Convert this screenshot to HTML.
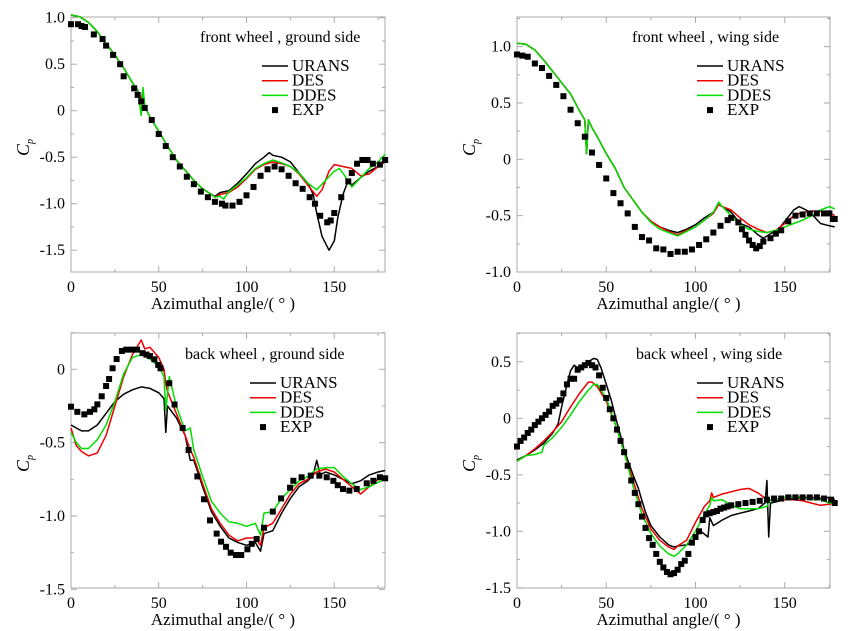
<!DOCTYPE html>
<html><head><meta charset="utf-8"><style>
body{margin:0;background:#fff;width:855px;height:631px;overflow:hidden}
svg{display:block;font-family:"Liberation Serif",serif}
svg text{font-family:"Liberation Serif",serif}
</style></head><body>
<svg id="chart" width="855" height="631" font-family="Liberation Serif, serif"></svg>
<script>
// ---- Panel 1: front wheel, ground side ----
const fgUransA=[0,5,10,15,20,25,30,35,38,40,41,42,45,50,55,60,65,70,75,80,82,85,90,95,100,105,110,113,115,120,125,130,135,138,140,143,147,150,152,155,158,160,165,170,175,179];
const fgUransV=[1.03,1.01,0.95,0.85,0.72,0.6,0.46,0.3,0.22,0.1,0.22,0.05,-0.07,-0.22,-0.38,-0.53,-0.64,-0.75,-0.84,-0.9,-0.92,-0.88,-0.86,-0.78,-0.68,-0.57,-0.5,-0.45,-0.48,-0.5,-0.55,-0.67,-0.78,-0.9,-1.1,-1.35,-1.5,-1.4,-1.15,-0.9,-0.75,-0.8,-0.72,-0.65,-0.6,-0.55];
const fgDesA=[0,5,10,15,20,25,30,35,38,40,41,42,45,50,55,60,65,70,75,80,82,85,90,95,100,105,110,115,120,125,130,135,140,143,147,150,155,160,165,170,175,179];
const fgDesV=[1.03,1.01,0.95,0.85,0.72,0.6,0.46,0.3,0.22,0.1,0.22,0.05,-0.07,-0.22,-0.38,-0.53,-0.64,-0.75,-0.84,-0.9,-0.93,-0.9,-0.88,-0.82,-0.73,-0.63,-0.58,-0.55,-0.57,-0.6,-0.68,-0.8,-0.92,-0.85,-0.65,-0.58,-0.6,-0.62,-0.7,-0.68,-0.6,-0.55];
const fgDdesA=[0,5,10,15,20,25,30,35,38,40,41,42,45,50,55,60,65,70,75,80,82,85,87,90,95,100,105,110,115,120,125,130,135,140,145,150,153,156,160,165,170,175,179];
const fgDdesV=[1.03,1.01,0.95,0.85,0.72,0.6,0.46,0.3,0.22,-0.05,0.25,0.05,-0.07,-0.22,-0.38,-0.53,-0.64,-0.75,-0.84,-0.9,-0.93,-0.92,-0.95,-0.87,-0.8,-0.72,-0.62,-0.57,-0.53,-0.56,-0.6,-0.67,-0.78,-0.85,-0.75,-0.65,-0.62,-0.7,-0.82,-0.72,-0.62,-0.55,-0.47];
const fgExpA=[0,4,6,8,13,18,20,24,28,30,36,38,40,42,46,50,54,58,62,66,70,74,78,82,86,88,92,96,100,104,108,112,116,120,124,128,132,136,139,142,146,148,150,154,158,160,163,166,169,172,176,179];
const fgExpV=[0.93,0.93,0.91,0.9,0.82,0.77,0.7,0.6,0.5,0.37,0.24,0.17,0.1,0.03,-0.1,-0.25,-0.38,-0.5,-0.6,-0.71,-0.79,-0.87,-0.93,-0.98,-1.0,-1.02,-1.02,-0.98,-0.91,-0.82,-0.7,-0.63,-0.6,-0.63,-0.7,-0.78,-0.84,-0.93,-1.0,-1.13,-1.2,-1.18,-1.1,-0.93,-0.76,-0.67,-0.57,-0.53,-0.53,-0.57,-0.58,-0.53];
// ---- Panel 2: front wheel, wing side ----
const fwUransA=[0,5,10,15,20,25,30,35,38,39,40,42,45,50,55,60,65,70,75,80,85,90,95,100,105,110,113,115,120,125,130,135,138,142,146,150,155,158,162,166,170,175,178];
const fwUransV=[1.03,1.02,0.97,0.88,0.78,0.68,0.58,0.43,0.35,0.05,0.35,0.28,0.2,0.05,-0.08,-0.25,-0.36,-0.47,-0.55,-0.6,-0.63,-0.65,-0.62,-0.58,-0.52,-0.47,-0.4,-0.42,-0.47,-0.57,-0.6,-0.67,-0.7,-0.66,-0.63,-0.55,-0.45,-0.42,-0.45,-0.5,-0.57,-0.59,-0.6];
const fwDesA=[0,5,10,15,20,25,30,35,38,39,40,42,45,50,55,60,65,70,75,80,85,90,95,100,105,110,113,115,120,125,130,135,140,145,150,155,160,165,170,175,178];
const fwDesV=[1.03,1.02,0.97,0.88,0.78,0.68,0.58,0.43,0.35,0.05,0.35,0.28,0.2,0.05,-0.08,-0.25,-0.36,-0.47,-0.55,-0.6,-0.64,-0.67,-0.63,-0.6,-0.54,-0.48,-0.4,-0.42,-0.45,-0.52,-0.58,-0.62,-0.65,-0.63,-0.57,-0.5,-0.47,-0.46,-0.46,-0.47,-0.5];
const fwDdesA=[0,5,10,15,20,25,30,35,38,39,40,42,45,50,55,60,65,70,75,80,85,90,95,100,105,110,113,115,120,125,130,135,140,145,150,155,160,165,170,175,178];
const fwDdesV=[1.03,1.02,0.97,0.88,0.78,0.68,0.58,0.43,0.35,0.05,0.35,0.28,0.2,0.05,-0.08,-0.25,-0.36,-0.47,-0.56,-0.62,-0.65,-0.68,-0.64,-0.6,-0.54,-0.47,-0.38,-0.42,-0.5,-0.58,-0.62,-0.64,-0.65,-0.63,-0.6,-0.57,-0.54,-0.5,-0.45,-0.42,-0.44];
const fwExpA=[0,3,6,10,14,18,22,26,30,34,38,42,46,50,54,58,62,66,70,74,78,82,86,90,94,98,102,106,110,114,118,120,124,126,128,130,132,134,136,138,142,145,148,152,156,160,164,168,172,175,177,178];
const fwExpV=[0.93,0.92,0.91,0.85,0.81,0.74,0.66,0.56,0.44,0.32,0.2,0.06,-0.05,-0.17,-0.3,-0.39,-0.48,-0.6,-0.69,-0.72,-0.79,-0.8,-0.84,-0.82,-0.82,-0.8,-0.76,-0.71,-0.65,-0.59,-0.54,-0.52,-0.56,-0.62,-0.67,-0.72,-0.76,-0.79,-0.77,-0.73,-0.7,-0.66,-0.63,-0.55,-0.5,-0.49,-0.48,-0.48,-0.48,-0.48,-0.53,-0.53];
// ---- Panel 3: back wheel, ground side ----
const bgUransA=[0,3,6,10,15,20,25,30,35,40,45,50,53,54,55,60,65,68,70,75,80,85,90,95,100,105,108,110,115,120,125,130,135,138,140,142,145,150,155,160,165,170,175,179];
const bgUransV=[-0.38,-0.4,-0.42,-0.42,-0.38,-0.3,-0.22,-0.17,-0.14,-0.12,-0.13,-0.16,-0.2,-0.43,-0.25,-0.33,-0.45,-0.62,-0.62,-0.8,-0.97,-1.07,-1.15,-1.18,-1.2,-1.18,-1.24,-1.12,-1.1,-0.98,-0.88,-0.8,-0.76,-0.72,-0.62,-0.72,-0.7,-0.72,-0.75,-0.78,-0.76,-0.72,-0.7,-0.69];
const bgDesA=[0,3,6,10,15,20,25,30,35,40,42,45,50,53,54,55,60,65,68,70,75,80,85,90,95,100,105,108,110,115,120,125,130,135,140,145,150,155,160,165,170,175,179];
const bgDesV=[-0.4,-0.52,-0.56,-0.59,-0.57,-0.45,-0.25,-0.05,0.1,0.2,0.14,0.15,0.08,0.0,-0.1,-0.15,-0.3,-0.45,-0.55,-0.6,-0.78,-0.95,-1.05,-1.13,-1.17,-1.15,-1.15,-1.2,-1.08,-1.05,-0.95,-0.85,-0.78,-0.75,-0.7,-0.68,-0.7,-0.75,-0.8,-0.85,-0.8,-0.75,-0.73];
const bgDdesA=[0,3,6,10,15,20,25,30,35,40,45,50,53,54,56,60,65,68,70,75,80,85,90,95,100,105,108,110,115,120,125,130,135,140,145,150,155,160,165,170,175,179];
const bgDdesV=[-0.43,-0.5,-0.54,-0.54,-0.48,-0.38,-0.22,-0.03,0.08,0.1,0.07,0.02,-0.05,-0.28,-0.05,-0.25,-0.42,-0.4,-0.55,-0.73,-0.9,-0.98,-1.04,-1.05,-1.07,-1.05,-1.13,-0.98,-0.97,-0.88,-0.82,-0.76,-0.73,-0.68,-0.67,-0.67,-0.73,-0.78,-0.82,-0.8,-0.77,-0.75];
const bgExpA=[0,3.6,7.6,10.8,13.3,15,17.5,20,21.7,23.7,26,29,31.5,34.5,37.7,40.8,43,45,47.5,49.7,51,56,59,63.6,67,72,75.8,79.2,83,85.5,88.3,91,94,97,100.5,103,105.8,110,115,119.7,124.8,126.7,131.4,136.6,141.5,145.7,149.5,152,155,158.6,162.8,168.5,172.3,176,179];
const bgExpV=[-0.255,-0.29,-0.307,-0.29,-0.273,-0.239,-0.184,-0.114,-0.066,0.007,0.07,0.125,0.134,0.134,0.134,0.11,0.1,0.09,0.068,0.03,0.007,-0.095,-0.24,-0.4,-0.55,-0.73,-0.886,-1.03,-1.12,-1.175,-1.21,-1.25,-1.266,-1.266,-1.227,-1.19,-1.157,-1.08,-0.97,-0.88,-0.807,-0.76,-0.736,-0.725,-0.725,-0.736,-0.76,-0.79,-0.816,-0.827,-0.816,-0.777,-0.76,-0.736,-0.743];
// ---- Panel 4: back wheel, wing side ----
const bwUransA=[0,5,10,15,20,23,25,28,30,32,35,38,40,43,45,47,50,53,55,58,60,65,68,70,72,75,80,85,88,90,95,98,100,103,107,108,110,115,120,125,130,135,138,139,140,141,142,145,150,155,160,165,170,175,178];
const bwUransV=[-0.37,-0.33,-0.28,-0.22,-0.13,-0.05,0.1,0.3,0.42,0.47,0.44,0.48,0.5,0.53,0.52,0.45,0.3,0.15,0.02,-0.15,-0.28,-0.5,-0.62,-0.73,-0.83,-0.95,-1.05,-1.12,-1.14,-1.13,-1.12,-1.1,-1.05,-1.0,-1.05,-0.88,-0.95,-0.9,-0.86,-0.84,-0.82,-0.8,-0.76,-0.75,-0.55,-1.05,-0.75,-0.74,-0.72,-0.71,-0.7,-0.7,-0.71,-0.7,-0.72];
const bwDesA=[0,5,10,15,20,25,30,35,40,42,45,50,55,60,65,70,75,80,85,88,90,95,100,105,108,109,110,115,120,125,130,135,140,145,150,155,160,165,170,175,178];
const bwDesV=[-0.38,-0.33,-0.27,-0.2,-0.12,-0.03,0.1,0.22,0.32,0.32,0.28,0.15,-0.05,-0.3,-0.55,-0.8,-0.98,-1.08,-1.14,-1.16,-1.13,-1.08,-0.92,-0.78,-0.73,-0.66,-0.7,-0.67,-0.65,-0.63,-0.62,-0.66,-0.72,-0.72,-0.72,-0.72,-0.73,-0.75,-0.77,-0.76,-0.75];
const bwDdesA=[0,5,10,14,15,20,25,30,35,40,43,45,50,55,60,65,70,75,80,85,88,90,95,100,105,108,109,110,115,120,125,130,135,140,142,145,150,155,160,165,170,175,178];
const bwDdesV=[-0.38,-0.33,-0.32,-0.3,-0.24,-0.17,-0.08,0.03,0.15,0.25,0.3,0.3,0.18,-0.05,-0.3,-0.6,-0.85,-1.02,-1.13,-1.2,-1.22,-1.2,-1.12,-1.0,-0.85,-0.77,-0.7,-0.73,-0.72,-0.77,-0.8,-0.8,-0.8,-0.78,-0.72,-0.72,-0.7,-0.69,-0.7,-0.72,-0.72,-0.75,-0.75];
const bwExpA=[0,2,4,6,8,10,12,14,16,18,20,22,24,26,28,30,32,34,36,38,40,42,44,46,48,50,52,54,56,58,60,62,64,66,68,70,72,74,76,78,80,82,84,86,88,90,92,94,96,98,100,102,104,106,108,110,112,114,116,118,120,124,128,132,136,140,144,148,152,156,160,164,168,172,176,178];
const bwExpV=[-0.25,-0.2,-0.17,-0.13,-0.1,-0.06,-0.03,0.0,0.03,0.06,0.11,0.13,0.16,0.22,0.3,0.35,0.35,0.43,0.45,0.47,0.49,0.47,0.45,0.38,0.27,0.18,0.08,0.0,-0.1,-0.2,-0.3,-0.42,-0.55,-0.66,-0.76,-0.87,-0.97,-1.06,-1.12,-1.2,-1.27,-1.32,-1.36,-1.38,-1.37,-1.34,-1.29,-1.26,-1.2,-1.1,-1.05,-1.0,-0.9,-0.85,-0.84,-0.83,-0.82,-0.8,-0.79,-0.78,-0.77,-0.76,-0.75,-0.74,-0.73,-0.72,-0.71,-0.71,-0.7,-0.7,-0.7,-0.7,-0.7,-0.71,-0.72,-0.75];

const yTicks1=["1.0","0.5","0","-0.5","-1.0","-1.5"];
const yTicks2=["1.0","0.5","0","-0.5","-1.0"];
const yTicks3=["0","-0.5","-1.0","-1.5"];
const yTicks4=["0.5","0","-0.5","-1.0","-1.5"];
const xTicks=["0","50","100","150"];

const NS="http://www.w3.org/2000/svg";
const FF="Liberation Serif, serif";
const svg=document.getElementById('chart');
function el(tag,attrs,parent){const e=document.createElementNS(NS,tag);for(const k in attrs)e.setAttribute(k,attrs[k]);if(tag==='text')e.setAttribute('font-family',FF);(parent||svg).appendChild(e);return e;}

const panels=[
 {key:'front-ground',title:'front wheel , ground side',L:71,R:385,T:17,B:272,x0:71,xs:1.755,y0:110.7,ys:93,yMin:-1.74,yMax:1.01,yt:yTicks1,tx:200,ty:42,lx:262,ly:66,
  s:[[fgUransA,fgUransV],[fgDesA,fgDesV],[fgDdesA,fgDdesV],[fgExpA,fgExpV]]},
 {key:'front-wing',title:'front wheel , wing side',L:517,R:830,T:17,B:272,x0:517,xs:1.785,y0:159.3,ys:112.7,yMin:-1.0,yMax:1.26,yt:yTicks2,tx:632,ty:42,lx:697,ly:66,
  s:[[fwUransA,fwUransV],[fwDesA,fwDesV],[fwDdesA,fwDdesV],[fwExpA,fwExpV]]},
 {key:'back-ground',title:'back wheel , ground side',L:71,R:385,T:333,B:588,x0:71,xs:1.755,y0:369.3,ys:146.7,yMin:-1.5,yMax:0.25,yt:yTicks3,tx:185,ty:359,lx:250,ly:383,
  s:[[bgUransA,bgUransV],[bgDesA,bgDesV],[bgDdesA,bgDdesV],[bgExpA,bgExpV]]},
 {key:'back-wing',title:'back wheel , wing side',L:517,R:830,T:333,B:588,x0:517,xs:1.785,y0:418.3,ys:113,yMin:-1.5,yMax:0.75,yt:yTicks4,tx:636,ty:359,lx:697,ly:383,
  s:[[bwUransA,bwUransV],[bwDesA,bwDesV],[bwDdesA,bwDdesV],[bwExpA,bwExpV]]}
];
const names=['URANS','DES','DDES','EXP'];
const colors=['#000','#e00','#0d0','#000'];

panels.forEach(p=>{
 const g=el('g',{});
 
 
 const X=a=>p.x0+a*p.xs, Y=v=>p.y0-v*p.ys;
 const fr=el('rect',{x:p.L,y:p.T,width:p.R-p.L,height:p.B-p.T,fill:'none',stroke:'#aaa','stroke-width':1},g);
 
 
 for(let a=0;a<=175;a+=25){const x=X(a);if(x>p.R)break;const len=a%50===0?6:3;
  el('line',{x1:x,y1:p.B,x2:x,y2:p.B-len,stroke:'#aaa'},g);el('line',{x1:x,y1:p.T,x2:x,y2:p.T+len,stroke:'#aaa'},g);}
 for(let v=Math.ceil(p.yMin*4)/4;v<=p.yMax;v+=0.25){const y=Y(v);const len=Math.abs(Math.round(v*4))%2===0?6:3;
  el('line',{x1:p.L,y1:y,x2:p.L+len,y2:y,stroke:'#aaa'},g);el('line',{x1:p.R,y1:y,x2:p.R-len,y2:y,stroke:'#aaa'},g);}
 p.yt.forEach(t=>{const tt=el('text',{x:p.L-6,y:Y(parseFloat(t))+5,'text-anchor':'end','font-size':16},g);tt.textContent=t;
  });
 xTicks.forEach(t=>{const tt=el('text',{x:X(parseFloat(t)),y:p.B+20,'text-anchor':'middle','font-size':16},g);tt.textContent=t;
  });
 const xt=el('text',{x:(p.L+p.R)/2-5,y:p.B+37,'text-anchor':'middle','font-size':17},g);xt.textContent='Azimuthal angle/( ° )';
 
 const cy=(p.T+p.B)/2+3, cx=p.L-42;
 const yt=el('text',{x:cx,y:cy,'font-size':18,'font-style':'italic',transform:`rotate(-90 ${cx} ${cy})`,'text-anchor':'middle'},g);
 yt.innerHTML='C<tspan font-size="10" dy="4">p</tspan>';
 
 const ti=el('text',{x:p.tx,y:p.ty,'font-size':16},g);ti.textContent=p.title;
 
 for(let i=0;i<3;i++){const [A,V]=p.s[i];
  const d=A.map((a,j)=>(j?'L':'M')+X(a).toFixed(1)+' '+Y(V[j]).toFixed(1)).join(' ');
  const pl=el('path',{d:d,fill:'none',stroke:colors[i],'stroke-width':1.5,'stroke-linejoin':'round'},g);
  }
 const [EA,EV]=p.s[3];
 EA.forEach((a,j)=>{const r=el('rect',{x:X(a)-3,y:Y(EV[j])-3,width:6,height:6,fill:'#000'},g);
  });
 names.forEach((n,i)=>{const y=p.ly+i*14.7;
  const lg=el('g',{},g);
  if(i<3) el('line',{x1:p.lx,y1:y,x2:p.lx+26,y2:y,stroke:colors[i],'stroke-width':1.5},lg);
  else el('rect',{x:p.lx+10,y:y-3,width:6,height:6,fill:'#000'},lg);
  const t=el('text',{x:p.lx+30,y:y+5,'font-size':17},lg);t.textContent=n;});
});
</script>
</body></html>
